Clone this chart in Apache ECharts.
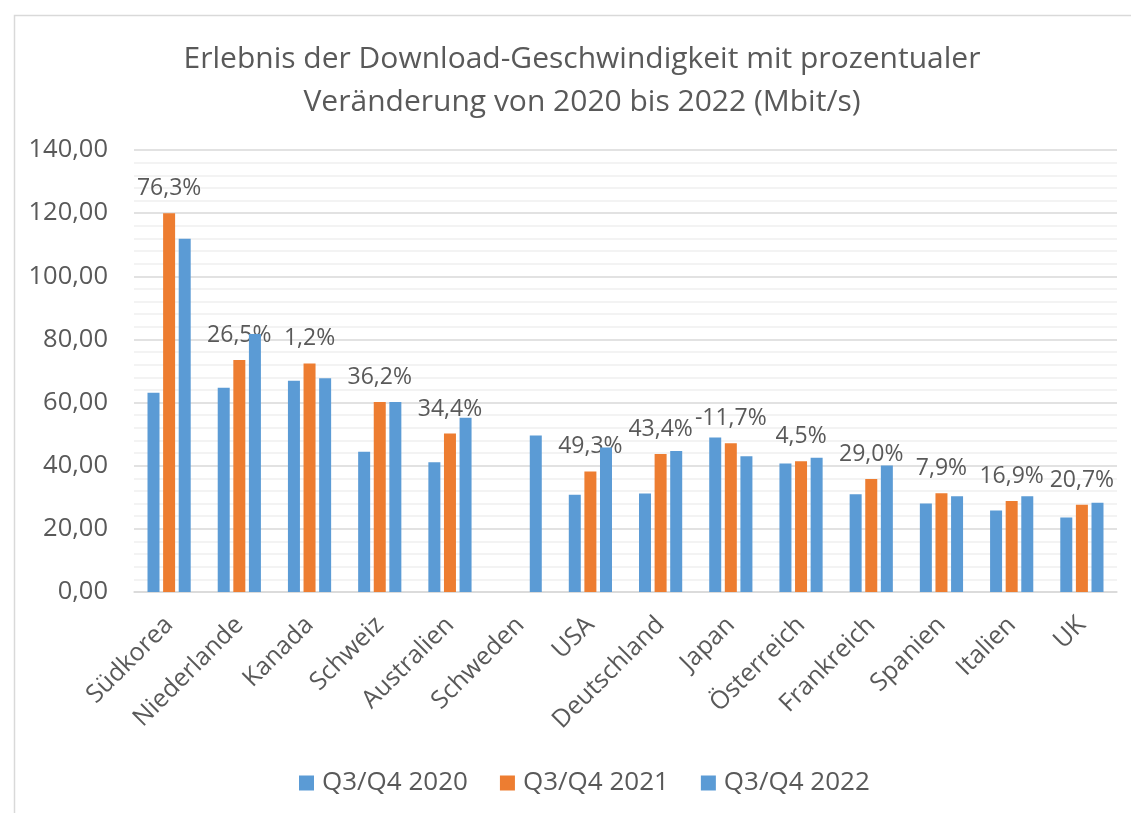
<!DOCTYPE html>
<html>
<head>
<meta charset="utf-8">
<script src="https://cdn.jsdelivr.net/npm/echarts@6/dist/echarts.min.js"></script>
<style>
html,body{margin:0;padding:0;background:#fff;}
#c{width:1131px;height:813px;}
</style>
</head>
<body>
<div id="c"></div>
<script>
const categories = ['Südkorea','Niederlande','Kanada','Schweiz','Australien','Schweden','USA','Deutschland','Japan','Österreich','Frankreich','Spanien','Italien','UK'];
const values2020 = [63.1, 64.7, 66.9, 44.4, 41.1, null, 30.8, 31.2, 48.9, 40.7, 31.0, 28.0, 25.8, 23.6];
const values2021 = [120.0, 73.5, 72.4, 60.2, 50.2, null, 38.2, 43.7, 47.1, 41.4, 35.8, 31.3, 28.8, 27.6];
const values2022 = [111.9, 81.7, 67.7, 60.2, 55.2, 49.6, 45.8, 44.7, 43.0, 42.5, 40.1, 30.3, 30.3, 28.3];
const changeLabels = ['76,3%','26,5%','1,2%','36,2%','34,4%', null,'49,3%','43,4%','-11,7%','4,5%','29,0%','7,9%','16,9%','20,7%'];
const seriesNames = ['Q3/Q4 2020','Q3/Q4 2021','Q3/Q4 2022'];
const yTicks = {min: 0, max: 140, interval: 20};

const FONT = '"Open Sans", "Noto Sans", sans-serif';
const TXT = '#595959';
const BLUE = '#5b9bd5';
const ORANGE = '#ed7d31';

const chart = echarts.init(document.getElementById('c'), null, {renderer: 'canvas'});
chart.setOption({
  animation: false,
  textStyle: {fontFamily: FONT},
  graphic: [{
    type: 'rect', left: 12, top: 13, z: -10,
    shape: {width: 1300, height: 1000},
    style: {fill: 'none', stroke: '#d9d9d9', lineWidth: 1.5}
  }],
  title: {
    text: 'Erlebnis der Download-Geschwindigkeit mit prozentualer\nVeränderung von 2020 bis 2022 (Mbit/s)',
    left: 577, top: 33, textAlign: 'center',
    textStyle: {fontFamily: FONT, fontSize: 30, fontWeight: 'normal', color: TXT, lineHeight: 43}
  },
  legend: {
    data: seriesNames,
    left: 294, top: 765,
    itemWidth: 15, itemHeight: 15, itemGap: 32,
    icon: 'rect',
    textStyle: {fontFamily: FONT, fontSize: 26, color: TXT, padding: [0, 0, 0, 3]}
  },
  grid: {left: 134, right: 14, top: 150, bottom: 221, containLabel: false},
  xAxis: {
    type: 'category',
    data: categories,
    axisLine: {show: true, lineStyle: {color: '#d9d9d9', width: 1.5}},
    axisTick: {show: false},
    axisLabel: {rotate: 45, interval: 0, margin: 29, fontFamily: FONT, fontSize: 25, color: TXT}
  },
  yAxis: {
    type: 'value',
    min: yTicks.min, max: yTicks.max, interval: yTicks.interval,
    axisLine: {show: false},
    axisTick: {show: false},
    axisLabel: {
      margin: 26, fontFamily: FONT, fontSize: 25.5, color: TXT,
      formatter: v => v.toFixed(2).replace('.', ',')
    },
    splitLine: {show: true, lineStyle: {color: '#d9d9d9', width: 1.5}},
    minorTick: {show: false, splitNumber: 5},
    minorSplitLine: {show: true, lineStyle: {color: '#efefef', width: 1.5}}
  },
  series: [
    {
      name: seriesNames[0], type: 'bar', data: values2020,
      barWidth: 12, barGap: '30%',
      itemStyle: {color: BLUE}
    },
    {
      name: seriesNames[1], type: 'bar', data: values2021,
      barWidth: 12, barGap: '30%',
      itemStyle: {color: ORANGE},
      label: {
        show: true, position: 'top', distance: 13,
        fontFamily: FONT, fontSize: 23, color: TXT,
        formatter: p => changeLabels[p.dataIndex] || ''
      },
      z: 1
    },
    {
      name: seriesNames[2], type: 'bar', data: values2022,
      barWidth: 12, barGap: '30%',
      itemStyle: {color: BLUE}
    }
  ]
});
</script>
</body>
</html>
